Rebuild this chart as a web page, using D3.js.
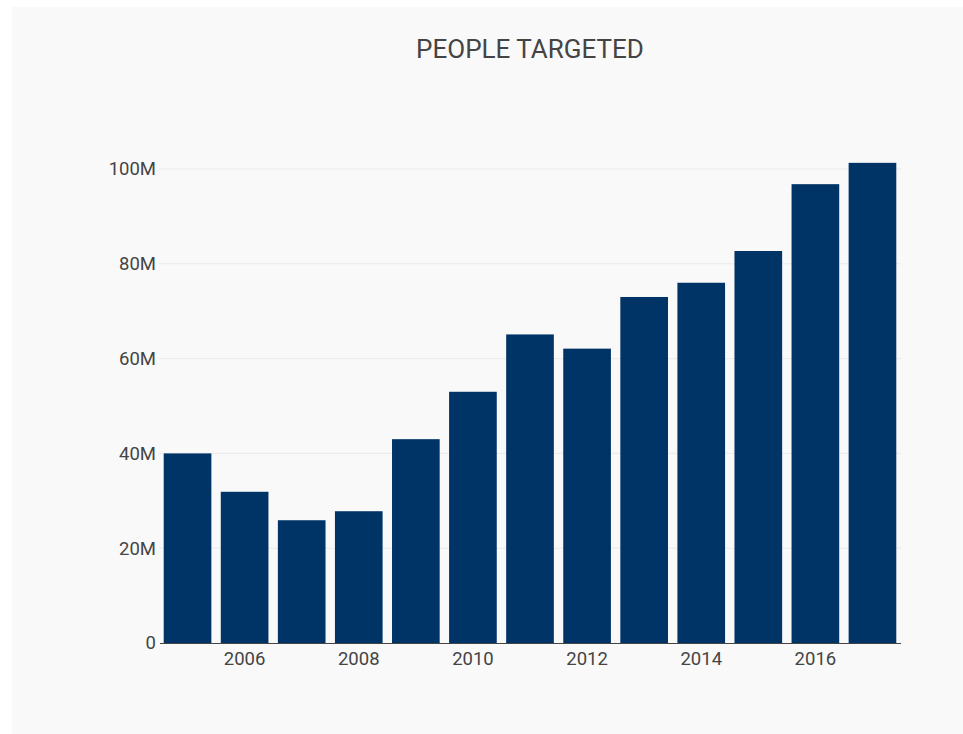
<!DOCTYPE html>
<html>
<head>
<meta charset="utf-8">
<script src="https://cdn.jsdelivr.net/npm/d3@7"></script>
<style>
  body { margin: 0; background: #fff; }
  text { font-family: Roboto, "Open Sans", sans-serif; }
</style>
</head>
<body>
<script>
const w = 963;
const h = 734;
const barColor = "#003366";
const textColor = "#444";

// people targeted, millions
const years = [2005, 2006, 2007, 2008, 2009, 2010, 2011, 2012, 2013, 2014, 2015, 2016, 2017];
const people = [40.0, 31.9, 25.9, 27.8, 43.0, 53.0, 65.1, 62.1, 73.0, 76.0, 82.7, 96.8, 101.3];
const yTicks = [0, 20, 40, 60, 80, 100];
const xTicks = [2006, 2008, 2010, 2012, 2014, 2016];

const margin = {left: 159, right: 62, top: 137, bottom: 91};

const svg = d3.select("body")
              .append("svg")
              .attr("width", w)
              .attr("height", h);

svg.append("rect")
   .attr("x", 12)
   .attr("y", 7)
   .attr("width", w - 12)
   .attr("height", h - 7)
   .attr("fill", "#f9f9f9");

const x = d3.scaleBand()
            .domain(years)
            .range([margin.left, w - margin.right])
            .paddingInner(0.165)
            .paddingOuter(0.0825);

const y = d3.scaleLinear()
            .domain([0, 100])
            .range([h - margin.bottom, 169]);

// gridlines
svg.append("g")
   .selectAll("line")
   .data(yTicks.filter(d => d > 0))
   .enter()
   .append("line")
   .attr("x1", margin.left)
   .attr("x2", w - margin.right)
   .attr("y1", d => y(d))
   .attr("y2", d => y(d))
   .attr("stroke", "#eaeaea")
   .attr("stroke-width", 1);

// bars
svg.append("g")
   .selectAll("rect")
   .data(years)
   .enter()
   .append("rect")
   .attr("x", d => x(d))
   .attr("width", x.bandwidth())
   .attr("y", (d, i) => y(people[i]))
   .attr("height", (d, i) => y(0) - y(people[i]))
   .attr("fill", barColor);

// x axis
const xAxis = d3.axisBottom(x)
                .tickValues(xTicks)
                .tickSize(0)
                .tickPadding(9);

const gx = svg.append("g")
              .attr("transform", "translate(0," + y(0) + ")")
              .call(xAxis);
gx.select(".domain")
  .attr("d", "M" + (margin.left + 1) + ",0.5H" + (w - margin.right))
  .attr("stroke", textColor);
gx.selectAll("text")
  .attr("fill", textColor)
  .style("font-size", "18.5px");

// y axis
const yAxis = d3.axisLeft(y)
                .tickValues(yTicks)
                .tickSize(0)
                .tickPadding(2)
                .tickFormat(d => d === 0 ? "0" : d + "M");

const gy = svg.append("g")
              .attr("transform", "translate(" + (margin.left - 1) + ",0)")
              .call(yAxis);
gy.select(".domain").remove();
gy.selectAll("text")
  .attr("fill", textColor)
  .style("font-size", "18.5px");

svg.append("text")
   .attr("x", 530)
   .attr("y", 58)
   .attr("text-anchor", "middle")
   .attr("fill", textColor)
   .style("font-size", "26px")
   .text("PEOPLE TARGETED");
</script>
</body>
</html>
